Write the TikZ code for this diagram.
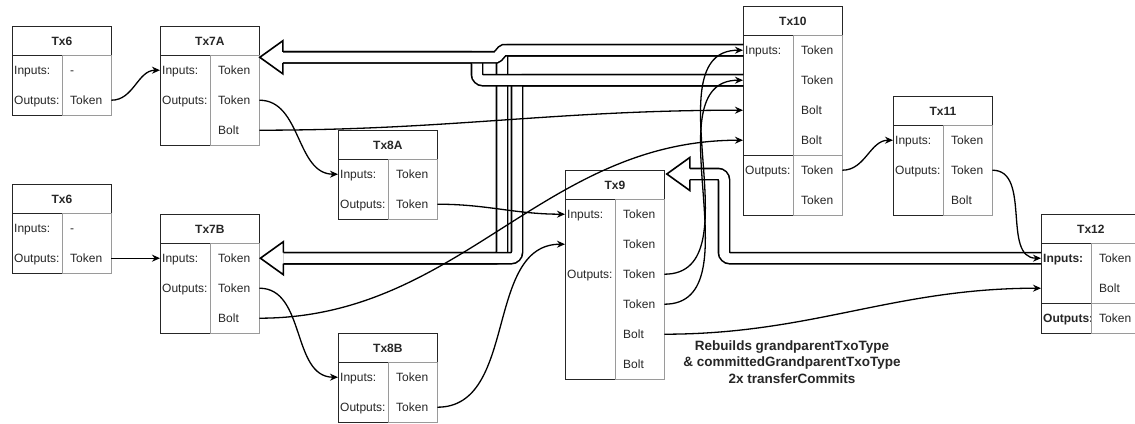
\documentclass[tikz,border=0pt]{standalone}
\usepackage{fontspec}
\setmainfont{Liberation Sans}
\usetikzlibrary{arrows.meta, positioning, calc}
\definecolor{boxline}{HTML}{262626}
\definecolor{celline}{HTML}{9A9A9A}
\definecolor{txtgray}{HTML}{262626}
\newcommand{\cellfont}{\fontsize{12}{14}\selectfont}
\tikzset{
  txhead/.style={draw=boxline, line width=0.8pt, minimum width=99pt, minimum height=29pt,
    inner sep=0pt, anchor=north west, text=txtgray, font=\cellfont\bfseries},
  txleft/.style={minimum height=30pt, text width=46pt, inner xsep=2pt, inner ysep=0pt,
    text height=10.5pt, text depth=1.5pt, align=left, anchor=north west, text=txtgray, font=\cellfont},
  txright/.style={minimum height=30pt, text width=33pt, inner xsep=8pt, inner ysep=0pt,
    text height=10.5pt, text depth=1.5pt, align=left, anchor=north west, text=txtgray, font=\cellfont},
  link/.style={line width=1.3pt, -{Stealth[length=8pt,width=7pt]}},
  fatline/.style={line width=1.6pt},
  fatshaft/.style={fatline, double=white, double distance=9.5pt, rounded corners=6pt},
}
% hollow arrow head pointing west, tip at #1
\newcommand{\fathead}[1]{%
  \fill[white] ($(#1)+(23,-16.5)$) -- (#1) -- ($(#1)+(23,16.5)$) -- cycle;
  \draw[fatline, line join=miter] ($(#1)+(23,-5.5)$) -- ($(#1)+(23,-16.5)$) -- (#1)
    -- ($(#1)+(23,16.5)$) -- ($(#1)+(23,5.5)$);
}
\begin{document}
\begin{tikzpicture}[x=1pt, y=-1pt]
  \useasboundingbox (0,0) rectangle (1135,423);
  % transaction tables
  \foreach \nm/\px/\py/\ttl/\nrow/\rows in {
    tx6a/12/26/Tx6/2/{Inputs:/-,Outputs:/Token},
    tx7a/160/26/Tx7A/3/{Inputs:/Token,Outputs:/Token,/Bolt},
    tx6b/12/184/Tx6/2/{Inputs:/-,Outputs:/Token},
    tx7b/160/214/Tx7B/3/{Inputs:/Token,Outputs:/Token,/Bolt},
    tx8a/338/130/Tx8A/2/{Inputs:/Token,Outputs:/Token},
    tx8b/338/333/Tx8B/2/{Inputs:/Token,Outputs:/Token},
    tx9/565/170/Tx9/6/{Inputs:/Token,/Token,Outputs:/Token,/Token,/Bolt,/Bolt},
    tx10/743/6/Tx10/6/{Inputs:/Token,/Token,/Bolt,/Bolt,Outputs:/Token,/Token},
    tx11/893/96/Tx11/3/{Inputs:/Token,Outputs:/Token,/Bolt},
    tx12/1041/214/Tx12/3/{\textbf{Inputs:}/Token,/Bolt,\textbf{Outputs:}/Token}}{
    \node[txhead] (\nm) at (\px,\py) {\ttl};
    \foreach \lt/\rt [count=\i] in \rows {
      \node[txleft] (\nm-l\i) at ({\px},{\py+29+(\i-1)*30}) {\lt};
      \node[txright] (\nm-r\i) at ({\px+50},{\py+29+(\i-1)*30}) {\rt};
    }
    \draw[boxline, line width=0.8pt] (\nm-l1.north west) rectangle (\nm-l\nrow.south east);
    \draw[celline, line width=0.8pt] (\nm-r1.north west) rectangle (\nm-r\nrow.south east);
  }
  \draw[boxline, line width=0.8pt] (tx10-l5.north west) -- (tx10-l5.north east);
  \draw[celline, line width=0.8pt] (tx10-r5.north west) -- (tx10-r5.north east);
  \draw[boxline, line width=0.8pt] (tx12-l3.north west) -- (tx12-l3.north east);
  \draw[celline, line width=0.8pt] (tx12-r3.north west) -- (tx12-r3.north east);

  % hollow arrows back to the ancestors
  \coordinate (tipA) at ($(tx7a.south east)+(0,1.5)$);
  \coordinate (tipB) at ($(tx7b-r1.east)+(1,0)$);
  \coordinate (tipC) at ($(tx9.north east)+(2,4)$);
  \coordinate (colA) at (477,0);
  \coordinate (jogB) at (510,0);
  \coordinate (colC) at (502,0);
  \coordinate (colD) at (517,0);
  \coordinate (colE) at (724,0);
  \draw[fatshaft] (tx10-l1.west) -| (colC |- tipB) -- ($(tipB)+(23,0)$);
  \draw[fatshaft] (tx10-l2.west) -| (colD |- tipB) -- ($(tipB)+(23,0)$);
  \draw[fatshaft] (tx10-l2.west) -| (colA |- tipA) -- ($(tipA)+(23,0)$);
  \draw[fatshaft] (tx10-l1.west) -- (jogB |- tx10-l1.west)
    to[out=180,in=0] ($(jogB |- tipA)+(-20,0)$) -- ($(tipA)+(23,0)$);
  \draw[fatshaft] (tx12-l1.west) -| (colE |- tipC) -- ($(tipC)+(23,0)$);
  \fathead{tipA}
  \fathead{tipB}
  \fathead{tipC}

  % outputs spent as inputs
  \draw[link] (tx6a-r2.east) to[out=0,in=180] (tx7a-l1.west);
  \draw[link] (tx6b-r2.east) -- (tx7b-l1.west);
  \draw[link] (tx7a-r2.east) to[out=0,in=180] (tx8a-l1.west);
  \draw[link] (tx7a-r3.east) to[out=0,in=180] (tx10-l3.west);
  \draw[link] (tx7b-r2.east) to[out=0,in=180] (tx8b-l1.west);
  \draw[link] (tx7b-r3.east) to[out=0,in=180] (tx10-l4.west);
  \draw[link] (tx8a-r2.east) to[out=0,in=180] (tx9-l1.west);
  \draw[link] (tx8b-r2.east) to[out=0,in=180] (tx9-l2.west);
  \draw[link] (tx9-r3.east) to[out=0,in=180] (tx10-l1.west);
  \draw[link] (tx9-r4.east) to[out=0,in=180] (tx10-l2.west);
  \draw[link] (tx9-r5.east) to[out=0,in=180] (tx12-l2.west);
  \draw[link] (tx10-r5.east) to[out=0,in=180] (tx11-l1.west);
  \draw[link] (tx11-r2.east) to[out=0,in=180] (tx12-l1.west);

  \node[font=\fontsize{13.5}{16.5}\selectfont\bfseries, text=txtgray, align=center] (note)
    at (792,362) {Rebuilds grandparentTxoType\\\& committedGrandparentTxoType\\2x transferCommits};
\end{tikzpicture}
\end{document}
